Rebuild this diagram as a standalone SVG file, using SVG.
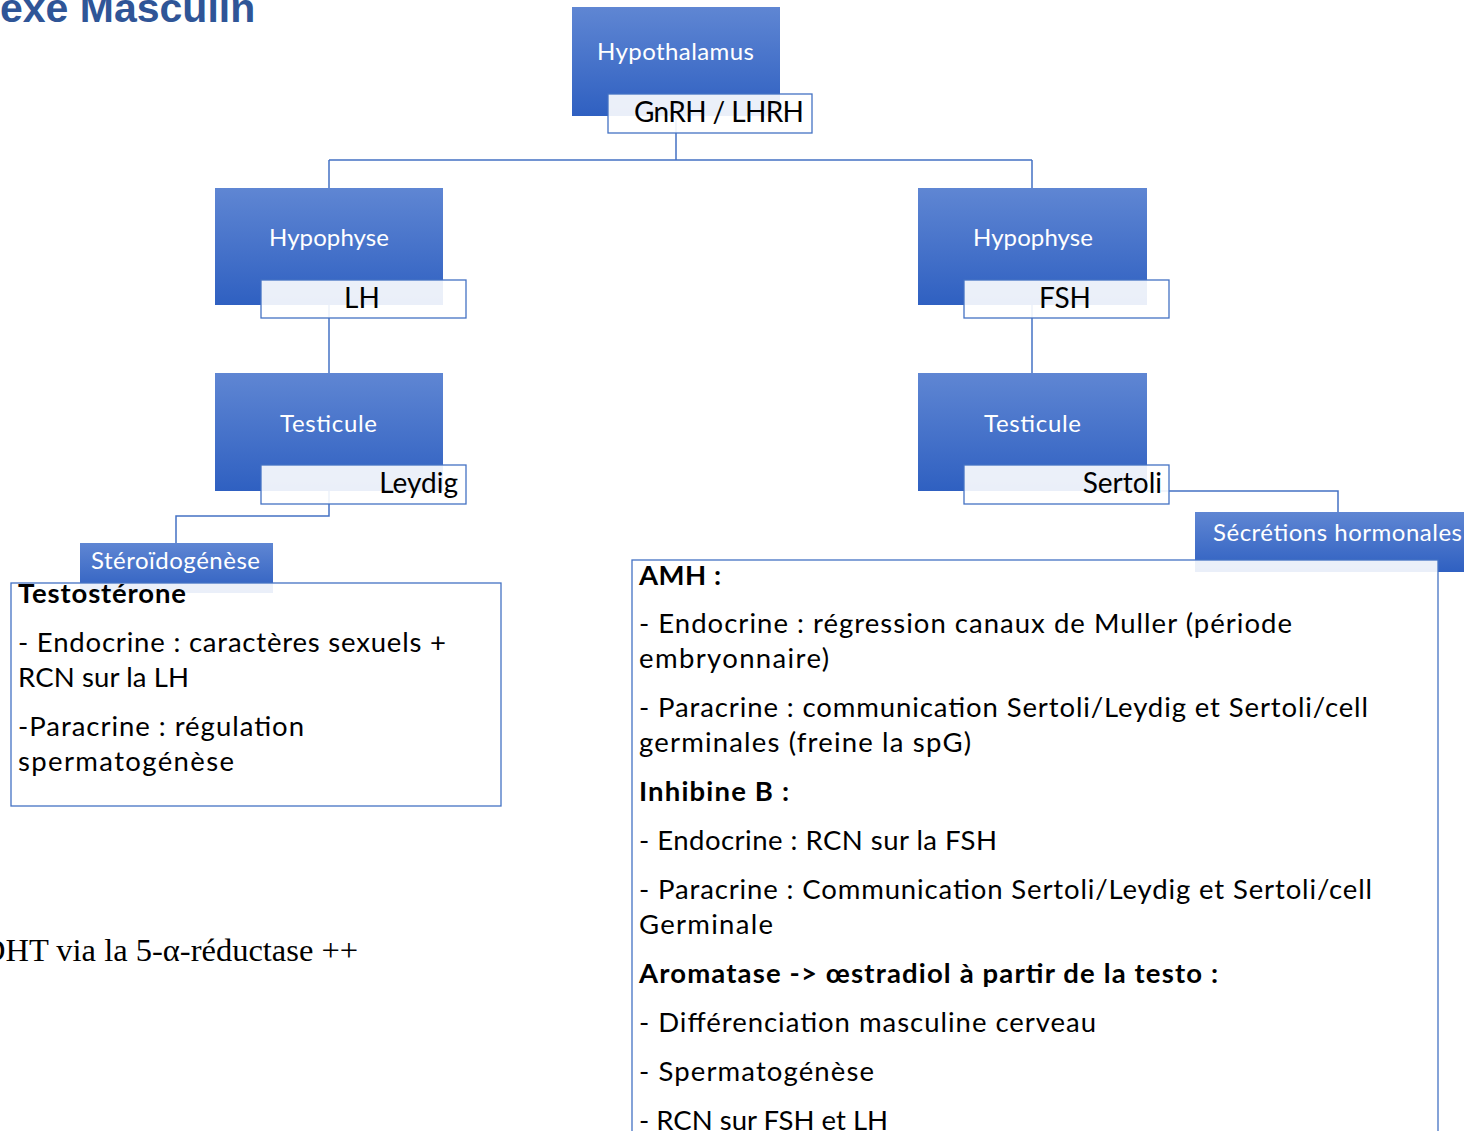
<svg xmlns="http://www.w3.org/2000/svg" width="1464" height="1131" viewBox="0 0 1464 1131">
<defs>
<linearGradient id="blueGrad" x1="0" y1="0" x2="0" y2="1">
<stop offset="0" stop-color="#5F86D3"/>
<stop offset="1" stop-color="#2F60C1"/>
</linearGradient>
</defs>
<style>
.blue{fill:url(#blueGrad);}
.lbl{fill:#FFFFFF;fill-opacity:0.9;stroke:#4472C4;stroke-width:1.3;}
.tbox{fill:#FFFFFF;fill-opacity:0.9;stroke:#4472C4;stroke-width:1.3;}
.conn{fill:none;stroke:#4472C4;stroke-width:1.5;}
.wt{font-family:Lato,"Open Sans",sans-serif;font-size:24px;fill:#FFFFFF;}
.lt{font-family:Lato,"Open Sans",sans-serif;font-size:28px;fill:#000000;}
.bt{font-family:Lato,"Open Sans",sans-serif;font-size:27.5px;fill:#000000;}
.bb{font-family:Lato,"Open Sans",sans-serif;font-size:27.5px;font-weight:bold;fill:#000000;}
</style>
<rect width="1464" height="1131" fill="#FFFFFF"/>
<text x="0" y="22" font-family="'Liberation Sans',Arial,sans-serif" font-size="41" font-weight="bold" fill="#2F5597">exe Masculin</text>
<text x="-18" y="961" font-family="'Liberation Serif','Times New Roman',serif" font-size="32.5" fill="#000000">DHT via la 5-α-réductase ++</text>
<g id="connectors">
<path class="conn" d="M676 116 V160 M329 160 H1032 M329 160 V188 M1032 160 V188"/>
<path class="conn" d="M329 305 V373"/>
<path class="conn" d="M1032 305 V373"/>
<path class="conn" d="M329 491 V516 H176 V543"/>
<path class="conn" d="M1147 491 H1338 V512"/>
</g>
<g id="hypothalamus">
<rect class="blue" x="572" y="7" width="208" height="109"/>
<text class="wt" x="597" y="60" textLength="157" lengthAdjust="spacing">Hypothalamus</text>
<rect class="lbl" x="608" y="94" width="204" height="39"/>
<text class="lt" x="634" y="122" textLength="170" lengthAdjust="spacing">GnRH / LHRH</text>
</g>
<g id="hypophyse-lh">
<rect class="blue" x="215" y="188" width="228" height="117"/>
<text class="wt" x="269" y="246" textLength="120" lengthAdjust="spacing">Hypophyse</text>
<rect class="lbl" x="261" y="280" width="205" height="38"/>
<text class="lt" x="362" y="308" text-anchor="middle">LH</text>
</g>
<g id="hypophyse-fsh">
<rect class="blue" x="918" y="188" width="229" height="117"/>
<text class="wt" x="973" y="246" textLength="120" lengthAdjust="spacing">Hypophyse</text>
<rect class="lbl" x="964" y="280" width="205" height="38"/>
<text class="lt" x="1065" y="308" text-anchor="middle">FSH</text>
</g>
<g id="testicule-leydig">
<rect class="blue" x="215" y="373" width="228" height="118"/>
<text class="wt" x="280" y="432" textLength="97" lengthAdjust="spacing">Testicule</text>
<rect class="lbl" x="261" y="465" width="205" height="39"/>
<text class="lt" x="458" y="493" text-anchor="end">Leydig</text>
</g>
<g id="testicule-sertoli">
<rect class="blue" x="918" y="373" width="229" height="118"/>
<text class="wt" x="984" y="432" textLength="97" lengthAdjust="spacing">Testicule</text>
<rect class="lbl" x="964" y="465" width="205" height="39"/>
<text class="lt" x="1162" y="493" text-anchor="end">Sertoli</text>
</g>
<g id="steroidogenese">
<rect class="blue" x="80" y="543" width="193" height="50"/>
<text class="wt" x="91" y="569" textLength="169" lengthAdjust="spacing">Stéroïdogénèse</text>
<rect class="tbox" x="11" y="583" width="490" height="223"/>
<text class="bb" x="18" y="603" textLength="168" lengthAdjust="spacing">Testostérone</text>
<text class="bt" x="18" y="652" textLength="428" lengthAdjust="spacing">- Endocrine : caractères sexuels +</text>
<text class="bt" x="18" y="687" textLength="171" lengthAdjust="spacing">RCN sur la LH</text>
<text class="bt" x="18" y="736" textLength="286" lengthAdjust="spacing">-Paracrine : régulation</text>
<text class="bt" x="18" y="771" textLength="216" lengthAdjust="spacing">spermatogénèse</text>
</g>
<g id="secretions">
<rect class="blue" x="1195" y="512" width="269" height="60"/>
<text class="wt" x="1213" y="541" textLength="249" lengthAdjust="spacing">Sécrétions hormonales</text>
<rect class="tbox" x="632" y="560" width="806" height="600"/>
<text class="bb" x="639" y="585" textLength="82" lengthAdjust="spacing">AMH :</text>
<text class="bt" x="639" y="633" textLength="653" lengthAdjust="spacing">- Endocrine : régression canaux de Muller (période</text>
<text class="bt" x="639" y="668" textLength="190" lengthAdjust="spacing">embryonnaire)</text>
<text class="bt" x="639" y="717" textLength="729" lengthAdjust="spacing">- Paracrine : communication Sertoli/Leydig et Sertoli/cell</text>
<text class="bt" x="639" y="752" textLength="332" lengthAdjust="spacing">germinales (freine la spG)</text>
<text class="bb" x="639" y="801" textLength="150" lengthAdjust="spacing">Inhibine B :</text>
<text class="bt" x="639" y="850" textLength="358" lengthAdjust="spacing">- Endocrine : RCN sur la FSH</text>
<text class="bt" x="639" y="899" textLength="733" lengthAdjust="spacing">- Paracrine : Communication Sertoli/Leydig et Sertoli/cell</text>
<text class="bt" x="639" y="934" textLength="134" lengthAdjust="spacing">Germinale</text>
<text class="bb" x="639" y="983" textLength="579" lengthAdjust="spacing">Aromatase -&gt; œstradiol à partir de la testo :</text>
<text class="bt" x="639" y="1032" textLength="457" lengthAdjust="spacing">- Différenciation masculine cerveau</text>
<text class="bt" x="639" y="1081" textLength="235" lengthAdjust="spacing">- Spermatogénèse</text>
<text class="bt" x="639" y="1130" textLength="249" lengthAdjust="spacing">- RCN sur FSH et LH</text>
</g>
</svg>
